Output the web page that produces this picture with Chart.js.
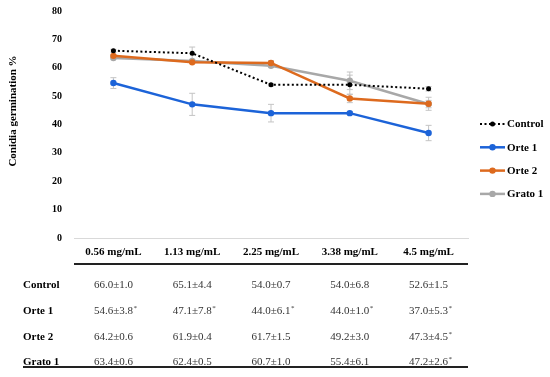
<!DOCTYPE html>
<html>
<head>
<meta charset="utf-8">
<script src="https://cdn.jsdelivr.net/npm/chart.js@4/dist/chart.umd.min.js"></script>
<style>
  body { margin: 0; background: #fff; }
  #wrap { width: 550px; height: 377px; }
</style>
</head>
<body>
<div id="wrap"><canvas id="chart" width="550" height="377"></canvas></div>
<script>
// doses on the x axis
const doses = ['0.56 mg/mL', '1.13 mg/mL', '2.25 mg/mL', '3.38 mg/mL', '4.5 mg/mL'];
const seriesNames = ['Control', 'Orte 1', 'Orte 2', 'Grato 1'];

// means (also shown in the table)
const controlMean = [66.0, 65.1, 54.0, 54.0, 52.6];
const orte1Mean = [54.6, 47.1, 44.0, 44.0, 37.0];
const orte2Mean = [64.2, 61.9, 61.7, 49.2, 47.3];
const grato1Mean = [63.4, 62.4, 60.7, 55.4, 47.2];

// SD as printed in the table
const controlSd = [1.0, 4.4, 0.7, 6.8, 1.5];
const orte1Sd = [3.8, 7.8, 6.1, 1.0, 5.3];
const orte2Sd = [0.6, 0.4, 1.5, 3.0, 4.5];
const grato1Sd = [0.6, 0.5, 1.0, 6.1, 2.6];

// significance marks (*)
const controlSig = [0, 0, 0, 0, 0];
const orte1Sig = [1, 1, 1, 1, 1];
const orte2Sig = [0, 0, 0, 0, 1];
const grato1Sig = [0, 0, 0, 0, 1];

// error bar half-lengths as drawn on the plot
const controlErr = [0.5, 2.2, 0.4, 3.4, 0.8];
const orte1Err = [1.9, 3.9, 3.1, 0.5, 2.7];
const orte2Err = [0.3, 0.2, 0.8, 1.5, 2.3];
const grato1Err = [0.3, 0.3, 0.5, 3.1, 1.3];

const yTicks = [0, 10, 20, 30, 40, 50, 60, 70, 80];

const SERIF = '"Liberation Serif", "Times New Roman", serif';
const colors = {
    control: '#000000',
    orte1: '#1c63d8',
    orte2: '#dd6a1e',
    grato1: '#a8a8a8',
    errBar: '#c4c4c4',
    axis: '#d9d9d9'
};

const means = [controlMean, orte1Mean, orte2Mean, grato1Mean];
const sds = [controlSd, orte1Sd, orte2Sd, grato1Sd];
const sigs = [controlSig, orte1Sig, orte2Sig, grato1Sig];
const errs = [controlErr, orte1Err, orte2Err, grato1Err];
const lineColors = [colors.control, colors.orte1, colors.orte2, colors.grato1];

function makeDataset(i) {
    const dotted = i === 0;
    return {
        label: seriesNames[i],
        data: means[i],
        borderColor: lineColors[i],
        backgroundColor: lineColors[i],
        pointBackgroundColor: lineColors[i],
        pointBorderColor: lineColors[i],
        pointBorderWidth: 0,
        borderWidth: dotted ? 2 : 2.5,
        borderDash: dotted ? [2, 2.5] : [],
        pointRadius: dotted ? 2.5 : 3.2,
        tension: 0,
        fill: false
    };
}

// grey error bars, drawn under the lines
const errorBars = {
    id: 'errorBars',
    beforeDatasetsDraw(chart) {
        const ctx = chart.ctx;
        const x = chart.scales.x, y = chart.scales.y;
        ctx.save();
        ctx.strokeStyle = colors.errBar;
        ctx.lineWidth = 1;
        errs.forEach((arr, s) => {
            arr.forEach((e, i) => {
                const px = x.getPixelForValue(i);
                const top = y.getPixelForValue(means[s][i] + e);
                const bot = y.getPixelForValue(means[s][i] - e);
                ctx.beginPath();
                ctx.moveTo(px, top); ctx.lineTo(px, bot);
                ctx.moveTo(px - 3, top); ctx.lineTo(px + 3, top);
                ctx.moveTo(px - 3, bot); ctx.lineTo(px + 3, bot);
                ctx.stroke();
            });
        });
        ctx.restore();
    }
};

// y title, legend on the right, data table under the x labels
const extras = {
    id: 'extras',
    afterDraw(chart) {
        const ctx = chart.ctx;
        const area = chart.chartArea;
        const x = chart.scales.x;
        ctx.save();

        // y axis title
        ctx.translate(13, 111);
        ctx.rotate(-Math.PI / 2);
        ctx.font = 'bold 11px ' + SERIF;
        ctx.fillStyle = '#000';
        ctx.textAlign = 'center';
        ctx.textBaseline = 'middle';
        ctx.fillText('Conidia germination %', 0, 0);
        ctx.setTransform(1, 0, 0, 1, 0, 0);

        // legend
        chart.data.datasets.forEach((ds, i) => {
            const ly = 124 + i * 23.3;
            ctx.strokeStyle = ds.borderColor;
            ctx.lineWidth = ds.borderWidth;
            ctx.setLineDash(ds.borderDash);
            ctx.beginPath();
            ctx.moveTo(480, ly); ctx.lineTo(505, ly);
            ctx.stroke();
            ctx.setLineDash([]);
            ctx.fillStyle = ds.borderColor;
            ctx.beginPath();
            ctx.arc(492.5, ly, ds.pointRadius, 0, Math.PI * 2);
            ctx.fill();
            ctx.fillStyle = '#000';
            ctx.font = 'bold 11px ' + SERIF;
            ctx.textAlign = 'left';
            ctx.fillText(ds.label, 507, ly + 0.5);
        });

        // table rules
        ctx.strokeStyle = '#222';
        ctx.lineWidth = 2;
        ctx.beginPath();
        ctx.moveTo(area.left, 264); ctx.lineTo(area.right, 264);
        ctx.moveTo(23, 367); ctx.lineTo(area.right, 367);
        ctx.stroke();

        // table rows
        const rowY = [285, 311, 337, 362];
        seriesNames.forEach((name, s) => {
            ctx.font = 'bold 11px ' + SERIF;
            ctx.textAlign = 'left';
            ctx.fillStyle = '#000';
            ctx.fillText(name, 23, rowY[s]);
            means[s].forEach((m, i) => {
                const txt = m.toFixed(1) + '±' + sds[s][i].toFixed(1);
                const cx = x.getPixelForValue(i);
                ctx.font = '11px ' + SERIF;
                ctx.fillStyle = '#333';
                ctx.textAlign = 'center';
                ctx.fillText(txt, cx, rowY[s]);
                if (sigs[s][i]) {
                    const w = ctx.measureText(txt).width;
                    ctx.font = '7px ' + SERIF;
                    ctx.textAlign = 'left';
                    ctx.fillText('*', cx + w / 2 + 0.5, rowY[s] - 3);
                }
            });
        });
        ctx.restore();
    }
};

new Chart(document.getElementById('chart'), {
    type: 'line',
    data: {
        labels: doses,
        datasets: seriesNames.map((n, i) => makeDataset(i))
    },
    options: {
        responsive: false,
        animation: false,
        layout: { padding: { top: 11, right: 82, left: 0, bottom: 0 } },
        plugins: {
            legend: { display: false },
            tooltip: { enabled: false }
        },
        scales: {
            x: {
                offset: true,
                grid: { display: false, drawTicks: false },
                border: { display: true, color: colors.axis, width: 1 },
                ticks: {
                    color: '#000',
                    padding: 8,
                    maxRotation: 0,
                    font: { family: SERIF, size: 11, weight: 'bold' }
                },
                afterFit(scale) { scale.height = 139; }
            },
            y: {
                min: yTicks[0],
                max: yTicks[yTicks.length - 1],
                afterBuildTicks(scale) { scale.ticks = yTicks.map(v => ({ value: v })); },
                grid: { display: false, drawTicks: false },
                border: { display: false },
                ticks: {
                    color: '#000',
                    padding: 12,
                    font: { family: SERIF, size: 10, weight: 'bold' }
                },
                afterFit(scale) {
                    scale.width = 74;
                    // tick padding would otherwise push the plot top down
                    scale.paddingTop = 0;
                    scale.paddingBottom = 0;
                }
            }
        }
    },
    plugins: [errorBars, extras]
});
</script>
</body>
</html>
